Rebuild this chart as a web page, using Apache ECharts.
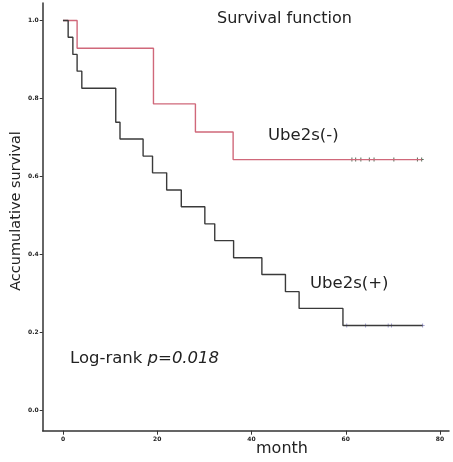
<!DOCTYPE html>
<html>
<head>
<meta charset="utf-8">
<script src="https://cdn.jsdelivr.net/npm/echarts@6/dist/echarts.min.js"></script>
<style>html,body{margin:0;padding:0;background:#fff}#c{width:453px;height:462px}</style>
</head>
<body>
<div id="c"></div>
<script>
// Ube2s(-) group: Kaplan-Meier steps [month, survival]
const negTimes = [0, 3.0, 19.2, 28.1, 36.1, 76.1];
const negSurv  = [1.0, 0.929, 0.786, 0.714, 0.643, 0.643];
const negCensorTimes = [61.3, 62.1, 63.2, 65.0, 66.0, 70.2, 75.2, 76.1];
const negCensorSurv  = 0.643;
// Ube2s(+) group
const posTimes = [0, 1.1, 2.1, 3.0, 4.0, 11.2, 12.1, 17.0, 19.0, 22.0, 25.1, 30.1, 32.2, 36.2, 42.2, 47.2, 50.1, 59.4, 76.3];
const posSurv  = [1.0, 0.957, 0.913, 0.870, 0.826, 0.739, 0.696, 0.652, 0.609, 0.565, 0.522, 0.478, 0.435, 0.391, 0.348, 0.304, 0.261, 0.217, 0.217];
const posCensorTimes = [60.2, 64.2, 69.0, 69.7, 76.3];
const posCensorSurv  = 0.217;
const xTicks = [0, 20, 40, 60, 80];
const yTicks = [0, 0.2, 0.4, 0.6, 0.8, 1.0];

const chart = echarts.init(document.getElementById('c'));
const FONT = 'DejaVu Sans';
const cross = 'path://M-0.25,-1H0.25V-0.25H1V0.25H0.25V1H-0.25V0.25H-1V-0.25H-0.25Z';
chart.setOption({
  animation: false,
  grid: {left: 42.7, right: 4, top: 3, bottom: 31.3},
  xAxis: {
    type: 'value', min: -4.3, max: 81.9,
    axisLine: {show: true, onZero: false, lineStyle: {color: '#333', width: 1.5}},
    axisTick: {show: true, customValues: xTicks, length: 4, lineStyle: {color: '#333'}},
    axisLabel: {customValues: xTicks, fontSize: 6, fontWeight: 'bold', color: '#222', margin: 6, fontFamily: FONT},
    splitLine: {show: false}
  },
  yAxis: {
    type: 'value', min: -0.053, max: 1.045,
    axisLine: {show: true, onZero: false, lineStyle: {color: '#333', width: 1.5}},
    axisTick: {show: true, customValues: yTicks, length: 3, lineStyle: {color: '#333'}},
    axisLabel: {customValues: yTicks, fontSize: 6, fontWeight: 'bold', color: '#222', margin: 4, fontFamily: FONT,
      formatter: v => v.toFixed(1)},
    splitLine: {show: false}
  },
  series: [
    {type: 'line', step: 'end', symbol: 'none', data: negTimes.map((t, i) => [t, negSurv[i]]),
      lineStyle: {color: '#d0687a', width: 1.4}},
    {type: 'line', step: 'end', symbol: 'none', data: posTimes.map((t, i) => [t, posSurv[i]]),
      lineStyle: {color: '#3a3a3a', width: 1.4}},
    {type: 'scatter', symbol: cross, symbolSize: 4, data: negCensorTimes.map(t => [t, negCensorSurv]),
      itemStyle: {color: '#2c4a30'}},
    {type: 'scatter', symbol: cross, symbolSize: 4, data: posCensorTimes.map(t => [t, posCensorSurv]),
      itemStyle: {color: '#8a88c8'}}
  ],
  graphic: [
    {type: 'text', left: 217, top: 11, style: {text: 'Survival function', font: '16px ' + FONT, fill: '#222'}},
    {type: 'text', left: 268, top: 127, style: {text: 'Ube2s(-)', font: '16.5px ' + FONT, fill: '#222'}},
    {type: 'text', left: 310, top: 275, style: {text: 'Ube2s(+)', font: '16.5px ' + FONT, fill: '#222'}},
    {type: 'text', left: 70, top: 350, style: {
      text: 'Log-rank {i|p=0.018}', font: '16.5px ' + FONT, fill: '#222',
      rich: {i: {fontStyle: 'italic', fontSize: 16.5, fontFamily: FONT, fill: '#222'}}}},
    {type: 'text', left: 256, top: 441, style: {text: 'month', font: '16px ' + FONT, fill: '#222'}},
    {type: 'text', x: 16, y: 211, rotation: Math.PI / 2,
      style: {text: 'Accumulative survival', font: '14.5px ' + FONT, fill: '#222', align: 'center', verticalAlign: 'middle'}}
  ]
});
</script>
</body>
</html>
